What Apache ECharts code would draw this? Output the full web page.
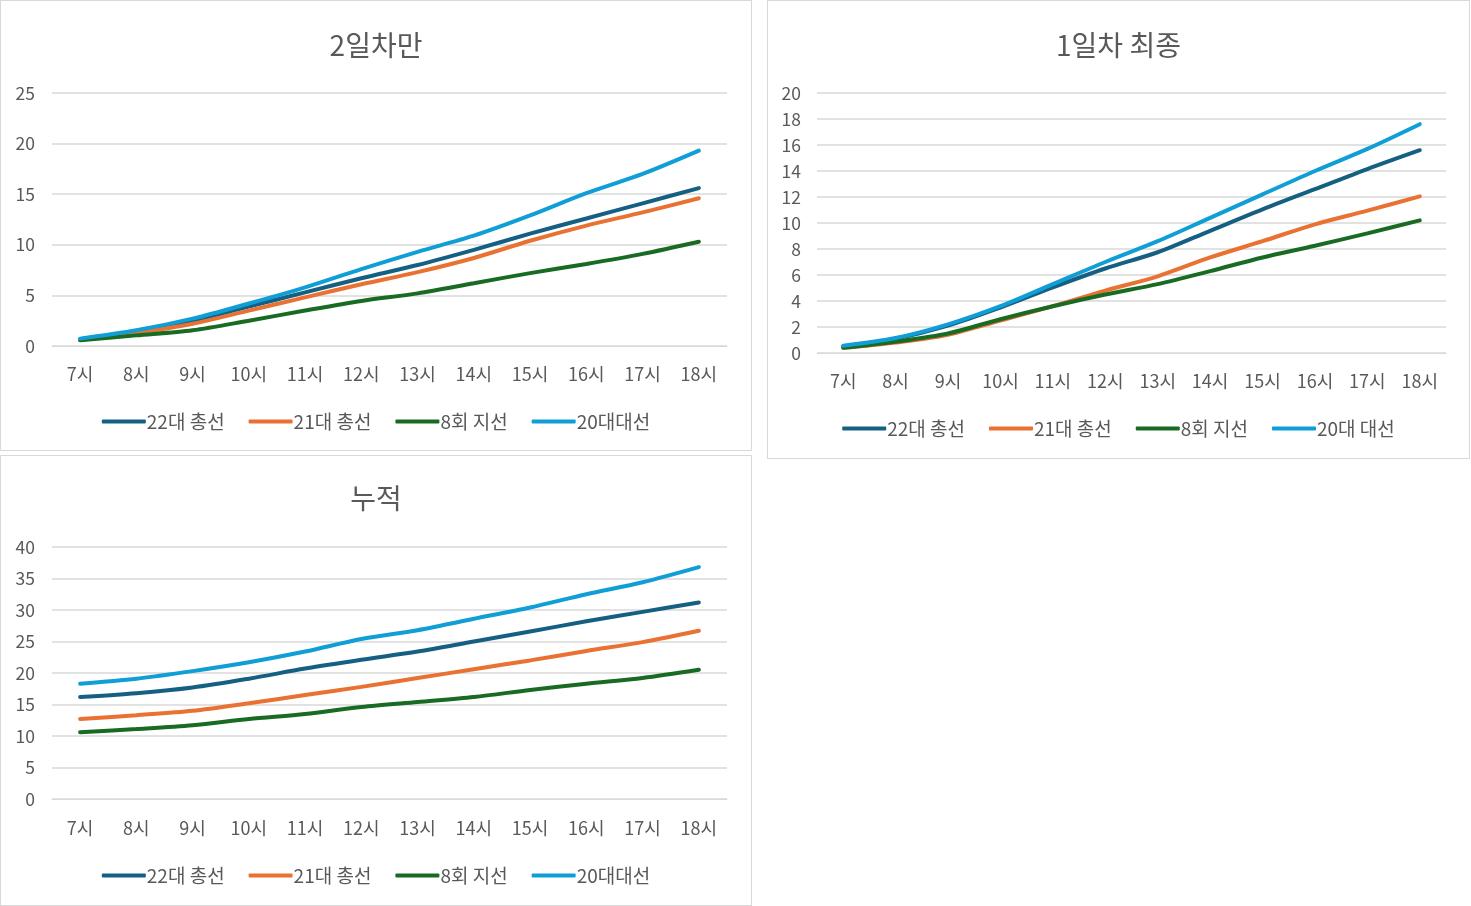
<!DOCTYPE html>
<html>
<head>
<meta charset="utf-8">
<script src="https://cdn.jsdelivr.net/npm/echarts@6/dist/echarts.min.js"></script>
<style>
  body { margin: 0; background: #fff; }
  .panel {
    position: absolute;
    box-sizing: border-box;
    border: 1px solid #d9d9d9;
    background: #fff;
  }
  .panel .chart { width: 100%; height: 100%; }
</style>
</head>
<body>
<div class="panel" style="left:0;top:0;width:752px;height:451px"><div class="chart" id="c1"></div></div>
<div class="panel" style="left:767px;top:0;width:703px;height:459px"><div class="chart" id="c2"></div></div>
<div class="panel" style="left:0;top:455px;width:752px;height:451px"><div class="chart" id="c3"></div></div>
<script>
// 시간대
const hours = ['7시', '8시', '9시', '10시', '11시', '12시', '13시', '14시', '15시', '16시', '17시', '18시']

// 계열 이름 (1일차 차트만 "20대 대선"으로 띄어 씀)
const names = ['22대 총선', '21대 총선', '8회 지선', '20대대선']
const namesDay1 = ['22대 총선', '21대 총선', '8회 지선', '20대 대선']
const colors = ['#156082', '#E97132', '#196B24', '#0F9ED5']

// 2일차만
const day2_22 = [0.66, 1.4, 2.5, 3.9, 5.3, 6.7, 8.0, 9.5, 11.1, 12.6, 14.1, 15.6]
const day2_21 = [0.6, 1.3, 2.2, 3.5, 4.8, 6.1, 7.3, 8.7, 10.4, 11.9, 13.2, 14.6]
const day2_8 = [0.56, 1.05, 1.55, 2.5, 3.5, 4.45, 5.2, 6.2, 7.2, 8.1, 9.1, 10.3]
const day2_20 = [0.73, 1.55, 2.7, 4.2, 5.8, 7.6, 9.3, 10.9, 12.9, 15.1, 17.0, 19.3]

// 1일차 최종
const day1_22 = [0.5, 1.1, 2.1, 3.5, 5.05, 6.5, 7.75, 9.4, 11.05, 12.6, 14.15, 15.6]
const day1_21 = [0.4, 0.8, 1.4, 2.5, 3.6, 4.8, 5.9, 7.35, 8.6, 9.9, 10.95, 12.05]
const day1_8 = [0.4, 0.87, 1.5, 2.6, 3.6, 4.5, 5.3, 6.3, 7.35, 8.25, 9.2, 10.2]
const day1_20 = [0.56, 1.15, 2.2, 3.6, 5.3, 7.0, 8.6, 10.4, 12.2, 14.0, 15.7, 17.6]

// 누적
const cum_22 = [16.2, 16.8, 17.7, 19.1, 20.7, 22.1, 23.4, 25.0, 26.6, 28.2, 29.7, 31.2]
const cum_21 = [12.7, 13.3, 14.0, 15.2, 16.5, 17.8, 19.2, 20.6, 22.0, 23.5, 24.9, 26.7]
const cum_8 = [10.6, 11.1, 11.7, 12.7, 13.5, 14.6, 15.4, 16.2, 17.3, 18.3, 19.2, 20.5]
const cum_20 = [18.3, 19.1, 20.3, 21.7, 23.4, 25.4, 26.8, 28.6, 30.4, 32.5, 34.4, 36.8]

const font = '"Noto Sans CJK KR", "Noto Sans", sans-serif'
const textColor = '#595959'

function makeChart(id, title, seriesNames, data, yMax, yInterval, layout) {
    let chart = echarts.init(document.getElementById(id))
    chart.setOption({
        animation: false,
        textStyle: { fontFamily: font },
        title: {
            text: title,
            left: 'center',
            top: layout.titleTop,
            textStyle: { color: textColor, fontSize: 28, fontWeight: 'normal', fontFamily: font }
        },
        legend: {
            top: layout.legendTop,
            left: 'center',
            icon: 'roundRect',
            itemWidth: 44,
            itemHeight: 4,
            itemGap: 24,
            textStyle: { color: textColor, fontSize: 19, fontFamily: font, padding: [0, 0, 0, -4] },
            data: seriesNames
        },
        grid: layout.grid,
        xAxis: {
            type: 'category',
            data: hours,
            axisLine: { lineStyle: { color: '#d9d9d9' } },
            axisTick: { show: false },
            axisLabel: { color: textColor, fontSize: 18, margin: layout.xMargin, fontFamily: font }
        },
        yAxis: {
            type: 'value',
            min: 0,
            max: yMax,
            interval: yInterval,
            axisLabel: { color: textColor, fontSize: 17.5, margin: layout.yMargin, fontFamily: font },
            splitLine: { lineStyle: { color: '#d9d9d9', width: 1.5 } }
        },
        series: data.map((d, i) => ({
            name: seriesNames[i],
            type: 'line',
            data: d,
            smooth: 0.3,
            showSymbol: false,
            color: colors[i],
            lineStyle: { width: 4, color: colors[i], cap: 'round' }
        }))
    })
}

makeChart('c1', '2일차만', names, [day2_22, day2_21, day2_8, day2_20], 25, 5, {
    titleTop: 25, legendTop: 406, xMargin: 19, yMargin: 17,
    grid: { left: 51, right: 24, top: 92, bottom: 104 }
})

makeChart('c2', '1일차 최종', namesDay1, [day1_22, day1_21, day1_8, day1_20], 20, 2, {
    titleTop: 25, legendTop: 413, xMargin: 19, yMargin: 16,
    grid: { left: 49, right: 23, top: 92, bottom: 105 }
})

makeChart('c3', '누적', names, [cum_22, cum_21, cum_8, cum_20], 40, 5, {
    titleTop: 23, legendTop: 405, xMargin: 20, yMargin: 17,
    grid: { left: 51, right: 24, top: 91, bottom: 106 }
})
</script>
</body>
</html>
